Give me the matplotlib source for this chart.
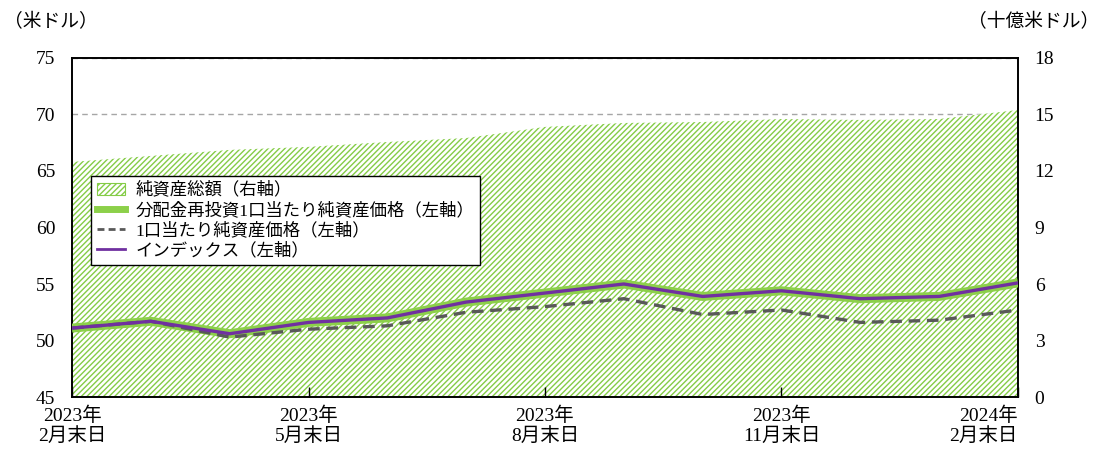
import numpy as np
import matplotlib
matplotlib.use("Agg")
import matplotlib.pyplot as plt
from matplotlib.patches import Patch
from matplotlib.lines import Line2D

plt.rcParams['font.family'] = ['Liberation Serif', 'Noto Sans CJK JP', 'DejaVu Sans']
plt.rcParams['hatch.linewidth'] = 1.0

# monthly month-end data, 2023/2 - 2024/2
months = np.arange(13)
net_assets = [12.48, 12.80, 13.12, 13.28, 13.54, 13.75, 14.34, 14.55, 14.60, 14.76, 14.71, 14.76, 15.24]
nav_reinvested = [51.1, 51.7, 50.6, 51.6, 52.0, 53.4, 54.2, 55.0, 53.9, 54.4, 53.7, 53.9, 55.1]
nav = [51.1, 51.7, 50.3, 51.0, 51.3, 52.5, 53.0, 53.7, 52.3, 52.7, 51.6, 51.8, 52.7]
index_vals = [51.1, 51.7, 50.6, 51.6, 52.0, 53.4, 54.2, 55.0, 53.9, 54.4, 53.7, 53.9, 55.1]

tick_pos = [0, 3, 6, 9, 12]
tick_labels = ['2023年\n2月末日', '2023年\n5月末日', '2023年\n8月末日', '2023年\n11月末日', '2024年\n2月末日']

green = '#8cd04a'
hatch_green = '#84cc46'
purple = '#7030a0'
gray = '#595959'

fig = plt.figure(figsize=(11.01, 4.53), dpi=100)
ax = fig.add_axes([0.0654, 0.1236, 0.8592, 0.7484])
ax2 = ax.twinx()
ax.set_zorder(ax2.get_zorder() + 1)
ax.patch.set_visible(False)

# net assets area (right axis)
ax2.fill_between(months, 0, net_assets, facecolor='white', edgecolor=hatch_green,
                 hatch='//////', linewidth=0, zorder=2)
ax2.set_ylim(0, 18)
ax2.set_yticks(np.arange(0, 19, 3))
ax2.grid(axis='y', color='#a6a6a6', linestyle=(0, (4, 3)), linewidth=1, zorder=1)
ax2.set_axisbelow(True)

# lines (left axis)
ax.plot(months, nav_reinvested, color=green, lw=6.5, solid_capstyle='butt', zorder=3)
ax.plot(months, nav, color=gray, lw=2.4, linestyle=(0, (3.5, 2)), zorder=4)
ax.plot(months, index_vals, color=purple, lw=2.4, zorder=5)
ax.set_ylim(45, 75)
ax.set_yticks(np.arange(45, 76, 5))
ax.set_xlim(0, 12)
ax.set_xticks(tick_pos)
ax.set_xticklabels(tick_labels, linespacing=1.1)
for lbl in ax.get_xticklabels()[-1:]:
    lbl.set_ha('right')

ax.tick_params(axis='x', direction='in', length=7, width=1, labelsize=14, pad=7)
ax.tick_params(axis='y', length=0, labelsize=14, pad=12)
ax2.tick_params(axis='y', length=0, labelsize=14, pad=12)
for a in (ax, ax2):
    for s in a.spines.values():
        s.set_color('black')
        s.set_linewidth(1.2)

fig.text(0.004, 0.952, '（米ドル）', fontsize=13.5, va='center', ha='left')
fig.text(0.998, 0.952, '（十億米ドル）', fontsize=13.5, va='center', ha='right')

handles = [
    Patch(facecolor='white', edgecolor=hatch_green, hatch='//////', linewidth=0.8),
    Line2D([], [], color=green, lw=5),
    Line2D([], [], color=gray, lw=2, linestyle=(0, (2.5, 1.5))),
    Line2D([], [], color=purple, lw=2),
]
labels = ['純資産総額（右軸）', '分配金再投資1口当たり純資産価格（左軸）',
          '1口当たり純資産価格（左軸）', 'インデックス（左軸）']
leg = ax.legend(handles, labels, loc='upper left', bbox_to_anchor=(0.02, 0.652),
                fontsize=12.5, frameon=True, fancybox=False, edgecolor='black',
                framealpha=1, borderpad=0.35, labelspacing=0.2, handlelength=1.6,
                handleheight=0.7, handletextpad=0.6, borderaxespad=0)
leg.get_frame().set_linewidth(1)

fig.savefig('out.png', dpi=100)
